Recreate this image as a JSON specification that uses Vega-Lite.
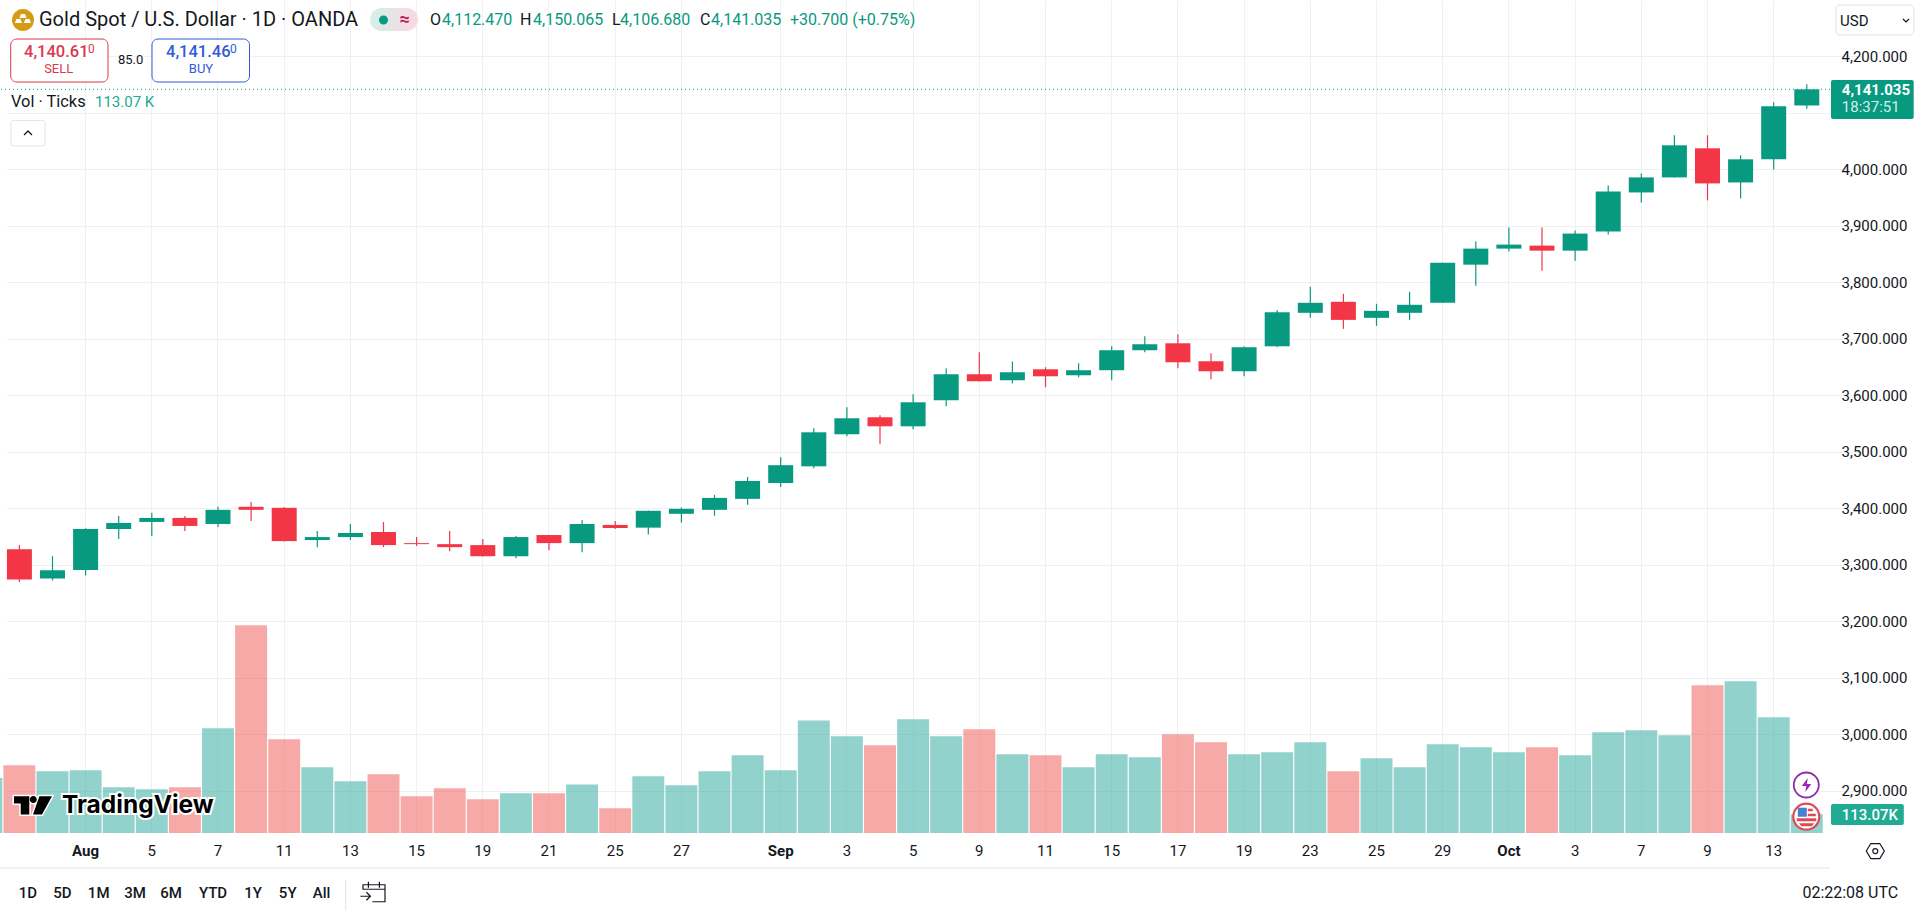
{
  "$schema": "https://vega.github.io/schema/vega-lite/v6.json",
  "width": 1830,
  "height": 833,
  "autosize": "none",
  "padding": {"left": 0, "top": 0, "right": 90, "bottom": 84},
  "background": "white",
  "config": {
    "view": {"stroke": null},
    "text": {"font": "Roboto", "fontSize": 15, "align": "left", "baseline": "middle", "color": "#131722"},
    "point": {"size": 4, "opacity": 1}
  },
  "datasets": {
    "bars": [
      {"date": "2025-07-29", "dir": "up", "volume": 333},
      {"date": "2025-07-30", "dir": "down", "open": 3327.4, "high": 3334.6, "low": 3269.1, "close": 3273.9, "volume": 409},
      {"date": "2025-07-31", "dir": "up", "open": 3275.6, "high": 3314.9, "low": 3272, "close": 3289.9, "volume": 373},
      {"date": "2025-08-01", "dir": "up", "open": 3290.5, "high": 3364.3, "low": 3281, "close": 3363.1, "volume": 379},
      {"date": "2025-08-04", "dir": "up", "open": 3363.1, "high": 3386.3, "low": 3345.3, "close": 3373.8, "volume": 276},
      {"date": "2025-08-05", "dir": "up", "open": 3375.6, "high": 3391.7, "low": 3350.6, "close": 3382.7, "volume": 264},
      {"date": "2025-08-06", "dir": "down", "open": 3382.7, "high": 3386.3, "low": 3359.5, "close": 3368.5, "volume": 276},
      {"date": "2025-08-07", "dir": "up", "open": 3372, "high": 3402.4, "low": 3366.7, "close": 3397, "volume": 633},
      {"date": "2025-08-08", "dir": "down", "open": 3402.4, "high": 3411.3, "low": 3377.4, "close": 3397, "volume": 1256},
      {"date": "2025-08-11", "dir": "down", "open": 3400.6, "high": 3401.5, "low": 3341, "close": 3341.7, "volume": 567},
      {"date": "2025-08-12", "dir": "up", "open": 3343.5, "high": 3359.5, "low": 3331, "close": 3348.8, "volume": 397},
      {"date": "2025-08-13", "dir": "up", "open": 3348.8, "high": 3372, "low": 3343.5, "close": 3356, "volume": 313},
      {"date": "2025-08-14", "dir": "down", "open": 3357.8, "high": 3375.6, "low": 3331, "close": 3334.6, "volume": 355},
      {"date": "2025-08-15", "dir": "down", "open": 3338.1, "high": 3348.8, "low": 3332.8, "close": 3336.3, "volume": 222},
      {"date": "2025-08-18", "dir": "down", "open": 3336.3, "high": 3359.5, "low": 3323.8, "close": 3331, "volume": 270},
      {"date": "2025-08-19", "dir": "down", "open": 3334.6, "high": 3345.3, "low": 3314.5, "close": 3314.9, "volume": 204},
      {"date": "2025-08-20", "dir": "up", "open": 3314.9, "high": 3350.6, "low": 3311.3, "close": 3348.8, "volume": 240},
      {"date": "2025-08-21", "dir": "down", "open": 3352.4, "high": 3352.4, "low": 3325.6, "close": 3338.1, "volume": 240},
      {"date": "2025-08-22", "dir": "up", "open": 3338.1, "high": 3379.2, "low": 3322.1, "close": 3372, "volume": 294},
      {"date": "2025-08-25", "dir": "down", "open": 3370.3, "high": 3377.4, "low": 3363.1, "close": 3364.9, "volume": 149},
      {"date": "2025-08-26", "dir": "up", "open": 3365.5, "high": 3396, "low": 3353.2, "close": 3395.3, "volume": 343},
      {"date": "2025-08-27", "dir": "up", "open": 3390, "high": 3401, "low": 3374.3, "close": 3398.8, "volume": 288},
      {"date": "2025-08-28", "dir": "up", "open": 3397, "high": 3423.4, "low": 3386.5, "close": 3418.1, "volume": 373},
      {"date": "2025-08-29", "dir": "up", "open": 3416.4, "high": 3455, "low": 3405.9, "close": 3448, "volume": 470},
      {"date": "2025-09-01", "dir": "up", "open": 3444.5, "high": 3490, "low": 3437.4, "close": 3476, "volume": 379},
      {"date": "2025-09-02", "dir": "up", "open": 3474, "high": 3541.3, "low": 3470.5, "close": 3534.2, "volume": 681},
      {"date": "2025-09-03", "dir": "up", "open": 3530.7, "high": 3578.5, "low": 3527.1, "close": 3559, "volume": 585},
      {"date": "2025-09-04", "dir": "down", "open": 3560.8, "high": 3564.3, "low": 3513, "close": 3544.8, "volume": 530},
      {"date": "2025-09-05", "dir": "up", "open": 3544.8, "high": 3601.5, "low": 3539.5, "close": 3587.3, "volume": 688},
      {"date": "2025-09-08", "dir": "up", "open": 3590.9, "high": 3647.5, "low": 3580.2, "close": 3636.9, "volume": 585},
      {"date": "2025-09-09", "dir": "down", "open": 3636.9, "high": 3675.8, "low": 3624, "close": 3624.5, "volume": 627},
      {"date": "2025-09-10", "dir": "up", "open": 3626.3, "high": 3659.3, "low": 3620.9, "close": 3640.4, "volume": 476},
      {"date": "2025-09-11", "dir": "down", "open": 3645.7, "high": 3649.3, "low": 3613.9, "close": 3633.3, "volume": 470},
      {"date": "2025-09-12", "dir": "up", "open": 3635.1, "high": 3656.3, "low": 3631.6, "close": 3644, "volume": 397},
      {"date": "2025-09-15", "dir": "up", "open": 3644, "high": 3686.4, "low": 3626.3, "close": 3679.4, "volume": 476},
      {"date": "2025-09-16", "dir": "up", "open": 3679.4, "high": 3704.1, "low": 3675.8, "close": 3690, "volume": 458},
      {"date": "2025-09-17", "dir": "down", "open": 3691.7, "high": 3707.7, "low": 3647.5, "close": 3658.1, "volume": 597},
      {"date": "2025-09-18", "dir": "down", "open": 3659.9, "high": 3674, "low": 3628, "close": 3642.2, "volume": 548},
      {"date": "2025-09-19", "dir": "up", "open": 3642.2, "high": 3686.4, "low": 3633.3, "close": 3684.7, "volume": 476},
      {"date": "2025-09-22", "dir": "up", "open": 3686.4, "high": 3750.2, "low": 3684.7, "close": 3746.6, "volume": 488},
      {"date": "2025-09-23", "dir": "up", "open": 3745.6, "high": 3791.7, "low": 3736.7, "close": 3763.3, "volume": 548},
      {"date": "2025-09-24", "dir": "down", "open": 3765.1, "high": 3779.3, "low": 3717.2, "close": 3733.1, "volume": 373},
      {"date": "2025-09-25", "dir": "up", "open": 3736.7, "high": 3761.6, "low": 3722.5, "close": 3749.1, "volume": 452},
      {"date": "2025-09-26", "dir": "up", "open": 3745.6, "high": 3782.9, "low": 3733.1, "close": 3759.8, "volume": 397},
      {"date": "2025-09-29", "dir": "up", "open": 3763.3, "high": 3834.3, "low": 3763, "close": 3834.3, "volume": 536},
      {"date": "2025-09-30", "dir": "up", "open": 3830.8, "high": 3871.6, "low": 3793.5, "close": 3859.2, "volume": 518},
      {"date": "2025-10-01", "dir": "up", "open": 3859.2, "high": 3896.5, "low": 3853.9, "close": 3866.3, "volume": 488},
      {"date": "2025-10-02", "dir": "down", "open": 3864.5, "high": 3896.5, "low": 3820.1, "close": 3855.6, "volume": 518},
      {"date": "2025-10-03", "dir": "up", "open": 3855.6, "high": 3891.1, "low": 3837.9, "close": 3885.8, "volume": 470},
      {"date": "2025-10-06", "dir": "up", "open": 3889.4, "high": 3971, "low": 3884, "close": 3960.4, "volume": 609},
      {"date": "2025-10-07", "dir": "up", "open": 3958.6, "high": 3992.3, "low": 3940.8, "close": 3985.2, "volume": 621},
      {"date": "2025-10-08", "dir": "up", "open": 3985.2, "high": 4059.8, "low": 3985, "close": 4042, "volume": 591},
      {"date": "2025-10-09", "dir": "down", "open": 4036.7, "high": 4059.8, "low": 3944.4, "close": 3974.6, "volume": 893},
      {"date": "2025-10-10", "dir": "up", "open": 3976.3, "high": 4024.3, "low": 3947.9, "close": 4017.2, "volume": 917},
      {"date": "2025-10-13", "dir": "up", "open": 4017.2, "high": 4118.3, "low": 3999.4, "close": 4111.2, "volume": 700},
      {"date": "2025-10-14", "dir": "up", "open": 4112.47, "high": 4150.065, "low": 4106.68, "close": 4141.035, "volume": 113.07}
    ]
  },
  "layer": [
    {
      "data": {"name": "bars"},
      "mark": {"type": "bar", "clip": true, "width": {"band": 0.965}, "opacity": 0.5},
      "encoding": {
        "x": {
          "field": "date",
          "type": "ordinal",
          "title": null,
          "scale": {
            "type": "band",
            "paddingInner": 0,
            "paddingOuter": 0,
            "range": [-30.25, 1823.35],
            "domain": ["2025-07-29","2025-07-30","2025-07-31","2025-08-01","2025-08-04","2025-08-05","2025-08-06","2025-08-07","2025-08-08","2025-08-11","2025-08-12","2025-08-13","2025-08-14","2025-08-15","2025-08-18","2025-08-19","2025-08-20","2025-08-21","2025-08-22","2025-08-25","2025-08-26","2025-08-27","2025-08-28","2025-08-29","2025-09-01","2025-09-02","2025-09-03","2025-09-04","2025-09-05","2025-09-08","2025-09-09","2025-09-10","2025-09-11","2025-09-12","2025-09-15","2025-09-16","2025-09-17","2025-09-18","2025-09-19","2025-09-22","2025-09-23","2025-09-24","2025-09-25","2025-09-26","2025-09-29","2025-09-30","2025-10-01","2025-10-02","2025-10-03","2025-10-06","2025-10-07","2025-10-08","2025-10-09","2025-10-10","2025-10-13","2025-10-14"]
          },
          "axis": {
            "values": ["2025-08-01","2025-08-05","2025-08-07","2025-08-11","2025-08-13","2025-08-15","2025-08-19","2025-08-21","2025-08-25","2025-08-27","2025-09-01","2025-09-03","2025-09-05","2025-09-09","2025-09-11","2025-09-15","2025-09-17","2025-09-19","2025-09-23","2025-09-25","2025-09-29","2025-10-01","2025-10-03","2025-10-07","2025-10-09","2025-10-13"],
            "labelExpr": "datum.value === '2025-08-01' ? 'Aug' : datum.value === '2025-09-01' ? 'Sep' : datum.value === '2025-10-01' ? 'Oct' : '' + toNumber(slice(datum.value, 8))",
            "labelFontWeight": {"condition": {"test": "slice(datum.value, 8) === '01'", "value": "bold"}, "value": "normal"},
            "labelAngle": 0,
            "labelFont": "Roboto",
            "labelFontSize": 15,
            "labelColor": "#131722",
            "labelPadding": 10,
            "labelOverlap": false,
            "labelBound": false,
            "ticks": false,
            "domain": false,
            "grid": true,
            "gridColor": "#eef0f4",
            "title": null
          }
        },
        "y": {"field": "volume", "type": "quantitative", "stack": null, "scale": {"domain": [0, 5037]}, "axis": null},
        "color": {"condition": {"test": "datum.dir === 'up'", "value": "#26a69a"}, "value": "#ef5350"}
      }
    },
    {
      "data": {"values": [{}]},
      "layer": [
        {
          "mark": {"type": "rule", "stroke": "#089981", "strokeDash": [1, 3], "strokeWidth": 1},
          "encoding": {
            "y": {
              "datum": 4141.035,
              "type": "quantitative",
              "title": null,
              "scale": {"domain": [2825.2, 4299.1], "nice": false, "zero": false},
              "axis": {
                "orient": "right",
                "values": [2900,3000,3100,3200,3300,3400,3500,3600,3700,3800,3900,4000,4100,4200],
                "labelExpr": "datum.value === 4100 ? '' : format(datum.value, ',.3f')",
                "labelFont": "Roboto",
                "labelFontSize": 15,
                "labelColor": "#131722",
                "labelPadding": 11,
                "labelOverlap": false,
                "labelBound": false,
                "ticks": false,
                "domain": false,
                "grid": true,
                "gridColor": "#eef0f4",
                "title": null
              }
            }
          }
        },
        {
          "data": {"name": "bars"},
          "transform": [{"filter": "isValid(datum.open)"}],
          "mark": {"type": "rule", "strokeWidth": 1.2},
          "encoding": {
            "x": {"field": "date", "type": "ordinal"},
            "y": {"field": "low", "type": "quantitative"},
            "y2": {"field": "high"},
            "color": {"condition": {"test": "datum.dir === 'up'", "value": "#089981"}, "value": "#f23645"}
          }
        },
        {
          "data": {"name": "bars"},
          "transform": [{"filter": "isValid(datum.open)"}],
          "mark": {"type": "bar", "width": {"band": 0.755}},
          "encoding": {
            "x": {"field": "date", "type": "ordinal"},
            "y": {"field": "open", "type": "quantitative"},
            "y2": {"field": "close"},
            "color": {"condition": {"test": "datum.dir === 'up'", "value": "#089981"}, "value": "#f23645"}
          }
        },
        {
          "mark": {"type": "rule", "stroke": "#e0e3eb", "strokeWidth": 1, "x2Offset": 90},
          "encoding": {"y": {"datum": 2763.2}}
        },
        {
          "mark": {"type": "point", "filled": true, "fill": "#d69b12", "stroke": null, "shape": "M-7.4,0 a11,11 0 1 0 22,0 a11,11 0 1 0 -22,0 Z"},
          "encoding": {"x": {"datum": "2025-07-30"}, "y": {"datum": 4263.7}}
        },
        {
          "mark": {"type": "point", "filled": true, "fill": "white", "stroke": null, "shape": "M1.6,-6 h4 l1.5,4 h-7 Z M-3,-1 h4 l1.5,4 h-7 Z M6,-1 h4 l1.5,4 h-7 Z"},
          "encoding": {"x": {"datum": "2025-07-30"}, "y": {"datum": 4263.7}}
        },
        {
          "mark": {"type": "text", "text": "Gold Spot / U.S. Dollar · 1D · OANDA", "dx": 19.6, "fontSize": 20},
          "encoding": {"x": {"datum": "2025-07-30"}, "y": {"datum": 4263.7}}
        },
        {
          "mark": {"type": "point", "filled": true, "stroke": null, "fill": {"gradient": "linear", "x1": 0, "x2": 1, "y1": 0, "y2": 0, "stops": [{"offset": 0, "color": "#d5efe9"}, {"offset": 1, "color": "#f9d8e1"}]}, "shape": "M-2,-12 H23 a11.5,11.5 0 0 1 0,23 H-2 a11.5,11.5 0 0 1 0,-23 Z"},
          "encoding": {"x": {"datum": "2025-08-14"}, "y": {"datum": 4263.7}}
        },
        {
          "mark": {"type": "point", "filled": true, "fill": "#089981", "stroke": null, "shape": "M-4.5,0 a4.5,4.5 0 1 0 9,0 a4.5,4.5 0 1 0 -9,0 Z"},
          "encoding": {"x": {"datum": "2025-08-14"}, "y": {"datum": 4263.7}}
        },
        {
          "mark": {"type": "text", "text": "≈", "dx": 16, "fontWeight": "bold", "fontSize": 18, "color": "#c2185b"},
          "encoding": {"x": {"datum": "2025-08-14"}, "y": {"datum": 4263.7}}
        },
        {
          "mark": {"type": "text", "text": "O", "dx": 410.6, "fontSize": 16},
          "encoding": {"x": {"datum": "2025-07-30"}, "y": {"datum": 4263.7}}
        },
        {
          "mark": {"type": "text", "text": "4,112.470", "dx": 422.6, "fontSize": 16, "color": "#089981"},
          "encoding": {"x": {"datum": "2025-07-30"}, "y": {"datum": 4263.7}}
        },
        {
          "mark": {"type": "text", "text": "H", "dx": 500.6, "fontSize": 16},
          "encoding": {"x": {"datum": "2025-07-30"}, "y": {"datum": 4263.7}}
        },
        {
          "mark": {"type": "text", "text": "4,150.065", "dx": 513.6, "fontSize": 16, "color": "#089981"},
          "encoding": {"x": {"datum": "2025-07-30"}, "y": {"datum": 4263.7}}
        },
        {
          "mark": {"type": "text", "text": "L", "dx": 592.6, "fontSize": 16},
          "encoding": {"x": {"datum": "2025-07-30"}, "y": {"datum": 4263.7}}
        },
        {
          "mark": {"type": "text", "text": "4,106.680", "dx": 600.6, "fontSize": 16, "color": "#089981"},
          "encoding": {"x": {"datum": "2025-07-30"}, "y": {"datum": 4263.7}}
        },
        {
          "mark": {"type": "text", "text": "C", "dx": 680.6, "fontSize": 16},
          "encoding": {"x": {"datum": "2025-07-30"}, "y": {"datum": 4263.7}}
        },
        {
          "mark": {"type": "text", "text": "4,141.035", "dx": 691.6, "fontSize": 16, "color": "#089981"},
          "encoding": {"x": {"datum": "2025-07-30"}, "y": {"datum": 4263.7}}
        },
        {
          "mark": {"type": "text", "text": "+30.700 (+0.75%)", "dx": 770.6, "fontSize": 16, "color": "#089981"},
          "encoding": {"x": {"datum": "2025-07-30"}, "y": {"datum": 4263.7}}
        },
        {
          "mark": {"type": "point", "filled": true, "fill": "white", "stroke": "#d9394b", "strokeWidth": 1, "shape": "M-35.8,-21 H49.5 a6,6 0 0 1 6,6 V16 a6,6 0 0 1 -6,6 H-35.8 a6,6 0 0 1 -6,-6 V-15 a6,6 0 0 1 6,-6 Z"},
          "encoding": {"x": {"datum": "2025-07-31"}, "y": {"datum": 4192.9}}
        },
        {
          "mark": {"type": "text", "text": "4,140.61", "dx": 4.6, "fontSize": 16.5, "fontWeight": 500, "color": "#d9394b"},
          "encoding": {"x": {"datum": "2025-07-30"}, "y": {"datum": 4207.1}}
        },
        {
          "mark": {"type": "text", "text": "0", "dx": 68.6, "fontSize": 12, "color": "#d9394b"},
          "encoding": {"x": {"datum": "2025-07-30"}, "y": {"datum": 4213}}
        },
        {
          "mark": {"type": "text", "text": "SELL", "dx": 39.3, "align": "center", "fontSize": 13, "color": "#d9394b"},
          "encoding": {"x": {"datum": "2025-07-30"}, "y": {"datum": 4177}}
        },
        {
          "mark": {"type": "text", "text": "85.0", "dx": 111.2, "align": "center", "fontSize": 13},
          "encoding": {"x": {"datum": "2025-07-30"}, "y": {"datum": 4192.9}}
        },
        {
          "mark": {"type": "point", "filled": true, "fill": "white", "stroke": "#2f5bd7", "strokeWidth": 1, "shape": "M-26.9,-21 H58.6 a6,6 0 0 1 6,6 V16 a6,6 0 0 1 -6,6 H-26.9 a6,6 0 0 1 -6,-6 V-15 a6,6 0 0 1 6,-6 Z"},
          "encoding": {"x": {"datum": "2025-08-06"}, "y": {"datum": 4192.9}}
        },
        {
          "mark": {"type": "text", "text": "4,141.46", "dx": 146.6, "fontSize": 16.5, "fontWeight": 500, "color": "#2f5bd7"},
          "encoding": {"x": {"datum": "2025-07-30"}, "y": {"datum": 4207.1}}
        },
        {
          "mark": {"type": "text", "text": "0", "dx": 210.6, "fontSize": 12, "color": "#2f5bd7"},
          "encoding": {"x": {"datum": "2025-07-30"}, "y": {"datum": 4213}}
        },
        {
          "mark": {"type": "text", "text": "BUY", "dx": 181.6, "align": "center", "fontSize": 13, "color": "#2f5bd7"},
          "encoding": {"x": {"datum": "2025-07-30"}, "y": {"datum": 4177}}
        },
        {
          "mark": {"type": "text", "text": "Vol · Ticks", "dx": -8.4, "fontSize": 16.4},
          "encoding": {"x": {"datum": "2025-07-30"}, "y": {"datum": 4118.6}}
        },
        {
          "mark": {"type": "text", "text": "113.07 K", "dx": 75.6, "color": "#22ab94"},
          "encoding": {"x": {"datum": "2025-07-30"}, "y": {"datum": 4118.6}}
        },
        {
          "mark": {"type": "point", "filled": true, "fill": "white", "stroke": "#e0e3eb", "strokeWidth": 1, "shape": "M-5.4,-12.5 H22.6 a3,3 0 0 1 3,3 V10 a3,3 0 0 1 -3,3 H-5.4 a3,3 0 0 1 -3,-3 V-9.5 a3,3 0 0 1 3,-3 Z"},
          "encoding": {"x": {"datum": "2025-07-30"}, "y": {"datum": 4063.8}}
        },
        {
          "mark": {"type": "point", "filled": false, "stroke": "#131722", "strokeWidth": 1.3, "shape": "M4.6,2 L8.6,-2 L12.6,2"},
          "encoding": {"x": {"datum": "2025-07-30"}, "y": {"datum": 4063.8}}
        },
        {
          "mark": {"type": "point", "filled": true, "fill": "#000000", "stroke": "white", "strokeWidth": 3, "shape": "M-5.4,-9.3 L9.9,-9.3 L9.9,9 L1.3,9 L1.3,-2 L-5.4,-2 Z M10.4,-6 a3.5,3.5 0 1 0 7,0 a3.5,3.5 0 1 0 -7,0 Z M20,-9.3 L32.6,-9.3 L22.6,9 L13.6,9 Z"},
          "encoding": {"x": {"datum": "2025-07-30"}, "y": {"datum": 2873.8}}
        },
        {
          "mark": {"type": "point", "filled": true, "fill": "#000000", "stroke": null, "shape": "M-5.4,-9.3 L9.9,-9.3 L9.9,9 L1.3,9 L1.3,-2 L-5.4,-2 Z M10.4,-6 a3.5,3.5 0 1 0 7,0 a3.5,3.5 0 1 0 -7,0 Z M20,-9.3 L32.6,-9.3 L22.6,9 L13.6,9 Z"},
          "encoding": {"x": {"datum": "2025-07-30"}, "y": {"datum": 2873.8}}
        },
        {
          "mark": {"type": "text", "text": "TradingView", "dx": 42.6, "fontSize": 24.5, "fontWeight": "bold", "font": "Inter", "stroke": "white", "strokeWidth": 4, "color": "white"},
          "encoding": {"x": {"datum": "2025-07-30"}, "y": {"datum": 2872.7}}
        },
        {
          "mark": {"type": "text", "text": "TradingView", "dx": 42.6, "fontSize": 24.5, "fontWeight": "bold", "font": "Inter", "color": "#000000"},
          "encoding": {"x": {"datum": "2025-07-30"}, "y": {"datum": 2872.7}}
        },
        {
          "mark": {"type": "text", "text": "1D", "dx": 8.6, "align": "center", "fontWeight": 500},
          "encoding": {"x": {"datum": "2025-07-30"}, "y": {"datum": 2719.5}}
        },
        {
          "mark": {"type": "text", "text": "5D", "dx": 43.1, "align": "center", "fontWeight": 500},
          "encoding": {"x": {"datum": "2025-07-30"}, "y": {"datum": 2719.5}}
        },
        {
          "mark": {"type": "text", "text": "1M", "dx": 79.3, "align": "center", "fontWeight": 500},
          "encoding": {"x": {"datum": "2025-07-30"}, "y": {"datum": 2719.5}}
        },
        {
          "mark": {"type": "text", "text": "3M", "dx": 115.6, "align": "center", "fontWeight": 500},
          "encoding": {"x": {"datum": "2025-07-30"}, "y": {"datum": 2719.5}}
        },
        {
          "mark": {"type": "text", "text": "6M", "dx": 151.6, "align": "center", "fontWeight": 500},
          "encoding": {"x": {"datum": "2025-07-30"}, "y": {"datum": 2719.5}}
        },
        {
          "mark": {"type": "text", "text": "YTD", "dx": 193.6, "align": "center", "fontWeight": 500},
          "encoding": {"x": {"datum": "2025-07-30"}, "y": {"datum": 2719.5}}
        },
        {
          "mark": {"type": "text", "text": "1Y", "dx": 233.6, "align": "center", "fontWeight": 500},
          "encoding": {"x": {"datum": "2025-07-30"}, "y": {"datum": 2719.5}}
        },
        {
          "mark": {"type": "text", "text": "5Y", "dx": 268.3, "align": "center", "fontWeight": 500},
          "encoding": {"x": {"datum": "2025-07-30"}, "y": {"datum": 2719.5}}
        },
        {
          "mark": {"type": "text", "text": "All", "dx": 302.2, "align": "center", "fontWeight": 500},
          "encoding": {"x": {"datum": "2025-07-30"}, "y": {"datum": 2719.5}}
        },
        {
          "mark": {"type": "point", "filled": false, "stroke": "#e0e3eb", "strokeWidth": 1, "shape": "M-4.7,-13 L-4.7,17"},
          "encoding": {"x": {"datum": "2025-08-13"}, "y": {"datum": 2719.5}}
        },
        {
          "mark": {"type": "point", "filled": false, "stroke": "#131722", "strokeWidth": 1.2, "shape": "M12.6,-3 L12.6,-8 L34.6,-8 L34.6,9 L22,9 M12.6,-3.5 L34.6,-3.5 M18,-11 L18,-5 M29,-11 L29,-5 M10,3.5 L20,3.5 M16,-0.5 L20,3.5 L16,7.5"},
          "encoding": {"x": {"datum": "2025-08-13"}, "y": {"datum": 2719.5}}
        },
        {
          "mark": {"type": "text", "text": "02:22:08 UTC", "dx": -4.4, "fontSize": 16},
          "encoding": {"x": {"datum": "2025-10-14"}, "y": {"datum": 2719.5}}
        },
        {
          "mark": {"type": "point", "filled": true, "fill": "white", "stroke": "#e0e3eb", "strokeWidth": 1, "shape": "M33.2,-15 H103.2 a4,4 0 0 1 4,4 V11 a4,4 0 0 1 -4,4 H33.2 a4,4 0 0 1 -4,-4 V-11 a4,4 0 0 1 4,-4 Z"},
          "encoding": {"x": {"datum": "2025-10-14"}, "y": {"datum": 4263.7}}
        },
        {
          "mark": {"type": "text", "text": "USD", "dx": 33.2},
          "encoding": {"x": {"datum": "2025-10-14"}, "y": {"datum": 4262.5}}
        },
        {
          "mark": {"type": "point", "filled": false, "stroke": "#131722", "strokeWidth": 1.2, "shape": "M96.2,-1 L99.2,2 L102.2,-1"},
          "encoding": {"x": {"datum": "2025-10-14"}, "y": {"datum": 4263.7}}
        },
        {
          "mark": {"type": "point", "filled": true, "fill": "#089981", "stroke": null, "shape": "M26.2,-19.5 H104.9 a2,2 0 0 1 2,2 V17.5 a2,2 0 0 1 -2,2 H26.2 a2,2 0 0 1 -2,-2 V-17.5 a2,2 0 0 1 2,-2 Z"},
          "encoding": {"x": {"datum": "2025-10-14"}, "y": {"datum": 4123}}
        },
        {
          "mark": {"type": "text", "text": "4,141.035", "dx": 35, "fontWeight": "bold", "color": "white"},
          "encoding": {"x": {"datum": "2025-10-14"}, "y": {"datum": 4140.7}}
        },
        {
          "mark": {"type": "text", "text": "18:37:51", "dx": 35, "color": "#d5f0ea"},
          "encoding": {"x": {"datum": "2025-10-14"}, "y": {"datum": 4109.2}}
        },
        {
          "mark": {"type": "point", "filled": true, "fill": "#22ab94", "stroke": null, "shape": "M26.2,-10.5 H95 a2,2 0 0 1 2,2 V8.5 a2,2 0 0 1 -2,2 H26.2 a2,2 0 0 1 -2,-2 V-8.5 a2,2 0 0 1 2,-2 Z"},
          "encoding": {"x": {"datum": "2025-10-14"}, "y": {"datum": 2857.9}}
        },
        {
          "mark": {"type": "text", "text": "113.07K", "dx": 63, "align": "center", "fontWeight": 500, "color": "white"},
          "encoding": {"x": {"datum": "2025-10-14"}, "y": {"datum": 2857.9}}
        },
        {
          "mark": {"type": "point", "filled": false, "stroke": "#131722", "strokeWidth": 1.2, "shape": "M59.5,0 L64,-7.5 L73,-7.5 L77.5,0 L73,7.5 L64,7.5 Z M66,0 a2.5,2.5 0 1 0 5,0 a2.5,2.5 0 1 0 -5,0 Z"},
          "encoding": {"x": {"datum": "2025-10-14"}, "y": {"datum": 2793.3}}
        },
        {
          "mark": {"type": "point", "filled": true, "fill": "white", "stroke": "#8a2fa8", "strokeWidth": 1.8, "shape": "M-13,0 a12.5,12.5 0 1 0 25,0 a12.5,12.5 0 1 0 -25,0 Z"},
          "encoding": {"x": {"datum": "2025-10-14"}, "y": {"datum": 2910.1}}
        },
        {
          "mark": {"type": "point", "filled": true, "fill": "#9c27b0", "stroke": null, "shape": "M1,-7 L-5,1 L-0.5,1 L-1.5,7 L4.5,-1 L0,-1 Z"},
          "encoding": {"x": {"datum": "2025-10-14"}, "y": {"datum": 2910.1}}
        },
        {
          "mark": {"type": "point", "filled": true, "fill": "white", "stroke": "#dd4b54", "strokeWidth": 2.2, "shape": "M-13.5,0 a13,13 0 1 0 26,0 a13,13 0 1 0 -26,0 Z"},
          "encoding": {"x": {"datum": "2025-10-14"}, "y": {"datum": 2854}}
        },
        {
          "mark": {"type": "point", "filled": true, "fill": "#4a7ed0", "stroke": null, "shape": "M-9,-9 H0 V0 H-9 Z"},
          "encoding": {"x": {"datum": "2025-10-14"}, "y": {"datum": 2854}}
        },
        {
          "mark": {"type": "point", "filled": true, "fill": "#dd4b54", "stroke": null, "shape": "M1,-8 H6 V-5.5 H1 Z M1,-3 H9 V-0.5 H1 Z M-10,1.5 H9.5 V4.5 H-10 Z M-8,6.5 H7.5 L5,9.5 H-5.5 Z"},
          "encoding": {"x": {"datum": "2025-10-14"}, "y": {"datum": 2854}}
        }
      ]
    }
  ],
  "resolve": {"scale": {"y": "independent"}}
}
